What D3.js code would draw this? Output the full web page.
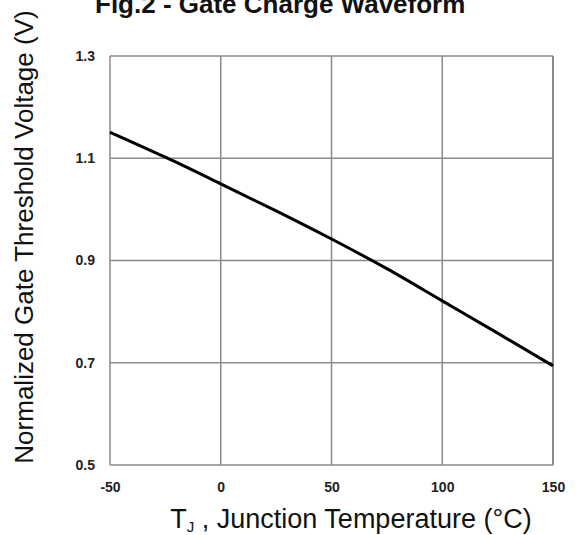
<!DOCTYPE html>
<html>
<head>
<meta charset="utf-8">
<script src="https://cdn.jsdelivr.net/npm/d3@7"></script>
<style>
  body { margin: 0; background: #fff; }
  svg { display: block; font-family: "Liberation Sans", Arial, sans-serif; }
</style>
</head>
<body>
<div id="chart-area"></div>
<script>
// temperatures (°C) and normalized Vth
var temps = [-50, -25, 0, 25, 50, 75, 100, 125, 150];
var vth = [1.151, 1.102, 1.050, 0.997, 0.942, 0.884, 0.821, 0.758, 0.694];
var xTicks = [-50, 0, 50, 100, 150];
var yTicks = [0.5, 0.7, 0.9, 1.1, 1.3];

var width = 576, height = 535;
var pLeft = 110, pTop = 56, pRight = 553, pBottom = 465;

var svg = d3.select("#chart-area").append("svg")
    .attr("width", width)
    .attr("height", height);

var x = d3.scaleLinear().domain([-50, 150]).range([pLeft, pRight]);
var y = d3.scaleLinear().domain([0.5, 1.3]).range([pBottom, pTop]);

// grid
svg.append("g").selectAll("line").data(xTicks).enter().append("line")
    .attr("x1", d => x(d)).attr("x2", d => x(d))
    .attr("y1", pTop).attr("y2", pBottom)
    .attr("stroke", "#8a8a8a")
    .attr("stroke-width", d => d == 150 ? 2 : 1.5);

svg.append("g").selectAll("line").data(yTicks).enter().append("line")
    .attr("x1", pLeft).attr("x2", pRight)
    .attr("y1", d => y(d)).attr("y2", d => y(d))
    .attr("stroke", "#8a8a8a")
    .attr("stroke-width", 1.5);

// axes (labels only, lines drawn as grid)
var xAxis = svg.append("g")
    .attr("transform", "translate(0," + pBottom + ")")
    .call(d3.axisBottom(x).tickValues(xTicks).tickFormat(d => String(d)).tickSize(0).tickPadding(17));
var yAxis = svg.append("g")
    .attr("transform", "translate(" + pLeft + ",0)")
    .call(d3.axisLeft(y).tickValues(yTicks).tickFormat(d => d.toFixed(1)).tickSize(0).tickPadding(15));

[xAxis, yAxis].forEach(a => {
    a.select(".domain").remove();
    a.selectAll("text")
        .attr("font-family", "'Liberation Sans', Arial, sans-serif")
        .attr("font-size", 14)
        .attr("font-weight", "bold")
        .attr("fill", "#222");
});

// curve
var line = d3.line()
    .x((d, i) => x(temps[i]))
    .y(d => y(d))
    .curve(d3.curveMonotoneX);

svg.append("path")
    .datum(vth)
    .attr("d", line)
    .attr("fill", "none")
    .attr("stroke", "#000")
    .attr("stroke-width", 3);

// title (clipped at top in the original)
svg.append("text")
    .attr("x", 95)
    .attr("y", 13)
    .attr("font-size", 26)
    .attr("font-weight", "bold")
    .attr("fill", "#111")
    .text("Fig.2 - Gate Charge Waveform");

// axis titles
var xt = svg.append("text")
    .attr("x", 351)
    .attr("y", 528)
    .attr("text-anchor", "middle")
    .attr("font-size", 27)
    .attr("fill", "#111");
xt.append("tspan").text("T");
xt.append("tspan").attr("font-size", 15).attr("dy", 4).text("J");
xt.append("tspan").attr("dy", -4).text(" , Junction Temperature (°C)");

svg.append("text")
    .attr("transform", "translate(33,237) rotate(-90)")
    .attr("text-anchor", "middle")
    .attr("font-size", 26)
    .attr("fill", "#111")
    .text("Normalized Gate Threshold Voltage (V)");
</script>
</body>
</html>
